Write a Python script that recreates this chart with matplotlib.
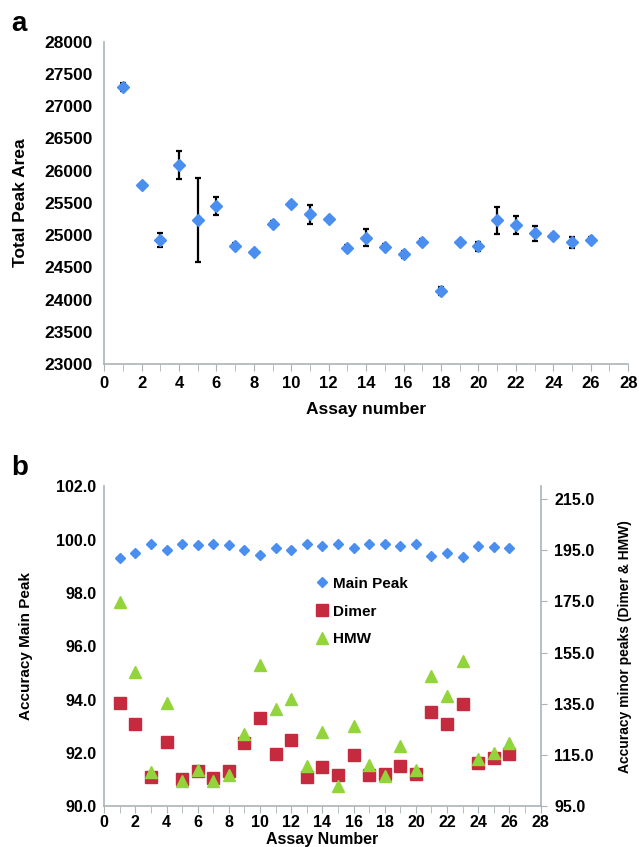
import numpy as np
import matplotlib
matplotlib.use('Agg')
import matplotlib.pyplot as plt
from matplotlib.ticker import MultipleLocator

plt.rcParams['font.family'] = ['Liberation Sans', 'DejaVu Sans']
plt.rcParams['font.weight'] = 'bold'

# panel a data
assay = np.arange(1, 27)
total_area = [27290, 25780, 24920, 26090, 25230, 25450, 24830, 24740, 25180, 25490,
              25320, 25250, 24800, 24960, 24820, 24700, 24890, 24140, 24890, 24830,
              25230, 25160, 25030, 24990, 24890, 24930]
total_err = [60, 20, 110, 220, 650, 135, 50, 30, 40, 20,
             145, 20, 40, 130, 40, 55, 50, 60, 20, 70,
             205, 140, 115, 30, 85, 40]

# panel b data
main_peak = [99.31, 99.49, 99.84, 99.59, 99.85, 99.79, 99.85, 99.80, 99.62, 99.43,
             99.67, 99.59, 99.84, 99.77, 99.85, 99.68, 99.83, 99.83, 99.77, 99.83,
             99.39, 99.49, 99.34, 99.75, 99.71, 99.68]
dimer = [135.5, 127.0, 106.5, 120.0, 105.8, 108.7, 106.0, 108.7, 119.6, 129.4,
         115.4, 120.9, 106.5, 110.3, 107.2, 115.0, 107.4, 107.8, 110.7, 107.5,
         132.0, 127.0, 135.0, 112.0, 113.7, 115.4]
hmw = [174.6, 147.6, 108.5, 135.3, 104.8, 109.1, 104.8, 107.2, 123.1, 150.0,
       132.9, 136.8, 110.7, 123.9, 103.0, 126.4, 111.1, 107.0, 118.7, 109.1,
       145.7, 138.1, 151.9, 113.6, 116.0, 119.8]

blue = '#4a8ef0'
red = '#c62a3f'
green = '#93d43a'
grey = '#aab4b8'

fig = plt.figure(figsize=(6.39, 8.47), dpi=100)

def style_axis(ax, ysize, xsize, ypad, xpad):
    for s in ['top', 'right']:
        ax.spines[s].set_visible(False)
    for s in ['left', 'bottom']:
        ax.spines[s].set_color(grey)
        ax.spines[s].set_linewidth(1.2)
    ax.tick_params(axis='y', length=0, labelsize=ysize, pad=ypad)
    ax.tick_params(axis='x', which='both', direction='out', color=grey,
                   labelsize=xsize, length=5, pad=xpad)
    ax.xaxis.set_major_locator(MultipleLocator(2))
    ax.xaxis.set_minor_locator(MultipleLocator(1))

# ---- panel a ----
ax1 = fig.add_axes([0.163, 0.570, 0.820, 0.381])
ax1.errorbar(assay, total_area, yerr=total_err, fmt='D', color=blue, ms=6.5,
             ecolor='black', elinewidth=1.6, capsize=2.5, capthick=1.6, zorder=3)
ax1.set_xlim(0, 28)
ax1.set_ylim(23000, 28000)
ax1.yaxis.set_major_locator(MultipleLocator(500))
style_axis(ax1, 12.5, 12, 8, 3.5)
ax1.set_xlabel('Assay number', fontsize=12.5, fontweight='bold', labelpad=8)
ax1.set_ylabel('Total Peak Area', fontsize=12.5, fontweight='bold')
ax1.yaxis.set_label_coords(-0.146, 0.5)
fig.text(0.018, 0.972, 'a', fontsize=20, fontweight='bold', va='center')

# ---- panel b ----
ax2 = fig.add_axes([0.163, 0.048, 0.683, 0.378])
ax3 = ax2.twinx()
l1, = ax2.plot(assay, main_peak, 'D', color=blue, ms=5.3, label='Main Peak')
l2, = ax3.plot(assay, dimer, 's', color=red, ms=8, label='Dimer')
l3, = ax3.plot(assay, hmw, '^', color=green, ms=8, label='HMW')
ax2.set_xlim(0, 28)
ax2.set_ylim(90, 102)
ax2.yaxis.set_major_locator(MultipleLocator(2))
ax2.yaxis.set_major_formatter(lambda v, p: f'{v:.1f}')
style_axis(ax2, 11.5, 11.5, 5.5, 1.5)
ax3.set_ylim(95, 220)
ax3.set_yticks(np.arange(95, 216, 20))
ax3.yaxis.set_major_formatter(lambda v, p: f'{v:.1f}')
ax3.spines['top'].set_visible(False)
ax3.spines['left'].set_visible(False)
ax3.spines['bottom'].set_visible(False)
ax3.spines['right'].set_color(grey)
ax3.spines['right'].set_linewidth(1.2)
ax3.tick_params(axis='y', direction='out', color=grey, length=4, labelsize=11.5, pad=6)
ax2.set_xlabel('Assay Number', fontsize=11.5, fontweight='bold', labelpad=1)
ax2.set_ylabel('Accuracy Main Peak', fontsize=11, fontweight='bold')
ax2.yaxis.set_label_coords(-0.163, 0.5)
ax3.set_ylabel('Accuracy minor peaks (Dimer & HMW)', fontsize=10, fontweight='bold')
ax3.yaxis.set_label_coords(1.177, 0.5)
ax2.legend(handles=[l1, l2, l3], loc='upper left', bbox_to_anchor=(0.447, 0.76),
           frameon=False, fontsize=11, handletextpad=0.1, handlelength=1.2,
           labelspacing=0.9)
fig.text(0.018, 0.447, 'b', fontsize=20, fontweight='bold', va='center')

plt.savefig('out.png', dpi=100)
